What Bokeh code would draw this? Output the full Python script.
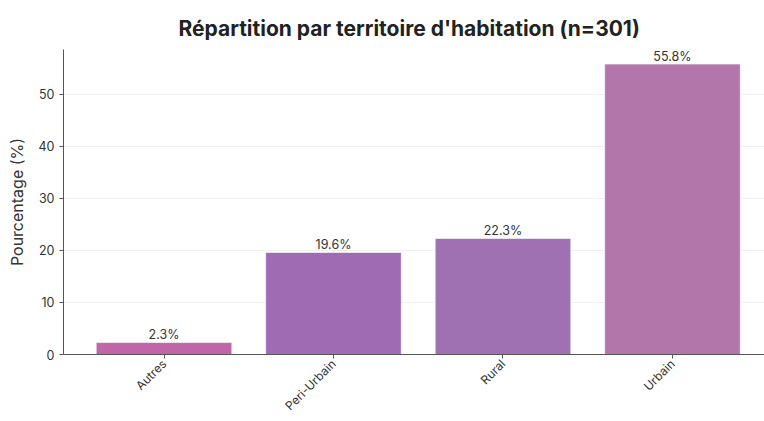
import math
from bokeh.plotting import figure
from bokeh.models import ColumnDataSource, Range1d, FixedTicker
from bokeh.core.properties import value
from bokeh.embed import file_html
from bokeh.resources import INLINE

categories = ["Autres", "Peri-Urbain", "Rural", "Urbain"]
percentages = [2.3, 19.6, 22.3, 55.8]
bar_colors = ["#c066a8", "#9f6bb3", "#9f70b2", "#b276ab"]
y_ticks = [0, 10, 20, 30, 40, 50]

FONT = "Inter"

positions = list(range(len(categories)))
source = ColumnDataSource(dict(
    x=positions,
    top=percentages,
    color=bar_colors,
    label=[f"{v:.1f}%" for v in percentages],
))

p = figure(
    width=764, height=421,
    x_range=Range1d(-0.593, 3.543),
    y_range=Range1d(0, 58.6),
    output_backend="svg", toolbar_location=None,
    min_border_left=63, min_border_right=0, min_border_top=49, min_border_bottom=66,
    title="Répartition par territoire d'habitation (n=301)",
)
p.title.text_font = FONT
p.title.text_font_size = "21px"
p.title.text_font_style = "bold"
p.title.text_color = "#222222"
p.title.align = "left"
p.title.offset = 115
p.title.standoff = 18

p.vbar(x="x", top="top", width=0.8, bottom=0, source=source,
       fill_color="color", line_color="white", line_alpha=0.6, line_width=1)

p.text(x="x", y="top", text="label", source=source,
       text_align="center", text_baseline="alphabetic", y_offset=-8,
       text_font=value(FONT), text_font_size="12.5px", text_color="#333333")

p.outline_line_color = None
p.xgrid.grid_line_color = None
p.ygrid.grid_line_color = "#f0f0f0"
p.ygrid.grid_line_width = 1

p.xaxis.ticker = FixedTicker(ticks=positions)
p.xaxis.major_label_overrides = {i: c for i, c in enumerate(categories)}
p.xaxis.major_label_orientation = math.pi / 4
p.yaxis.ticker = FixedTicker(ticks=y_ticks)

for ax in (p.xaxis, p.yaxis):
    ax.axis_line_color = "#555555"
    ax.axis_line_width = 1
    ax.major_tick_line_color = "#555555"
    ax.major_tick_out = 4
    ax.major_tick_in = 0
    ax.minor_tick_line_color = None
    ax.major_label_text_font = FONT
    ax.major_label_text_font_size = "12.5px"
    ax.major_label_text_color = "#333333"
    ax.major_label_standoff = 5

p.xaxis.major_label_text_font_size = "12px"
p.xaxis.major_label_standoff = 3

p.yaxis.axis_label = "Pourcentage (%)"
p.yaxis.axis_label_text_font = FONT
p.yaxis.axis_label_text_font_size = "16px"
p.yaxis.axis_label_text_font_style = "normal"
p.yaxis.axis_label_text_color = "#333333"
p.yaxis.axis_label_standoff = 9

open("out.html", "w").write(file_html(p, INLINE))
